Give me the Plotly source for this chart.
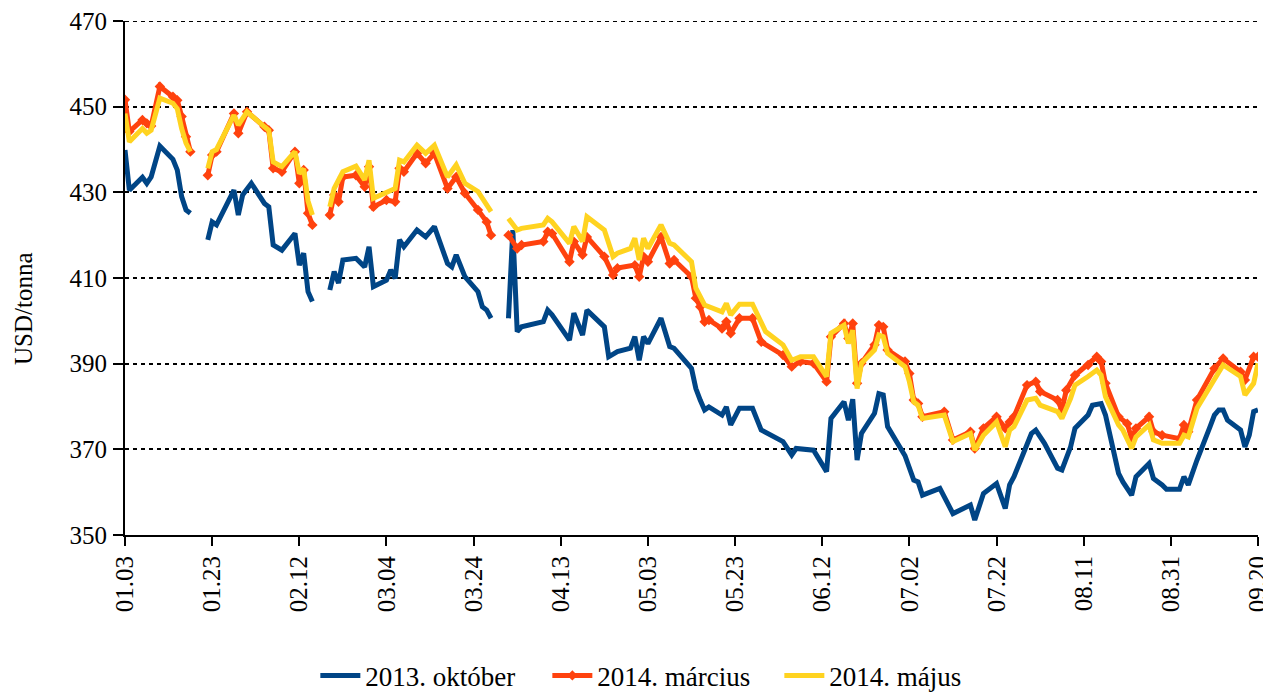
import plotly.graph_objects as go

# ---- data (2013 trading days, USD/tonna) ----
okt_dates = ["01-03","01-04","01-07","01-08","01-09","01-11","01-14","01-15","01-16","01-17","01-18","01-21",
             "01-22","01-23","01-24","01-28","01-29","01-30","02-01","02-04","02-05","02-06","02-08","02-11","02-12","02-13","02-14","02-15","02-18",
             "02-19","02-20","02-21","02-22","02-25","02-27","02-28","03-01","03-04","03-05","03-06","03-07","03-08","03-11","03-13","03-15","03-18","03-19","03-20","03-22","03-25","03-26","03-27","03-28","03-29",
             "04-01","04-02","04-03","04-04","04-09","04-10","04-11","04-15","04-16","04-18","04-19","04-23","04-24","04-26","04-29","04-30",
             "05-01","05-02","05-03","05-06","05-08","05-09","05-13","05-14","05-15","05-16","05-17","05-20","05-21","05-22","05-24","05-27","05-29",
             "06-03","06-05","06-06","06-10","06-12","06-13","06-14","06-17","06-18","06-19","06-20","06-21","06-24","06-25","06-26","06-27",
             "07-01","07-02","07-03","07-04","07-05","07-09","07-12","07-16","07-17","07-19","07-22","07-24","07-25","07-26","07-30","07-31",
             "08-02","08-05","08-06","08-08","08-09","08-12","08-13","08-15","08-16","08-19","08-20","08-22","08-23","08-26","08-27","08-29","08-30",
             "09-02","09-03","09-04","09-06","09-09","09-10","09-11","09-12","09-13","09-16","09-17","09-18","09-19","09-20"]
okt_usd = [439.9,430.5,433.5,432.1,433.6,440.8,437.7,435.2,429.0,425.9,425.1,None,
           418.9,423.1,422.4,430.5,424.7,429.4,432.1,427.4,426.6,417.7,416.5,420.4,413.0,415.8,406.8,404.5,None,
           407.2,411.5,408.8,414.2,414.6,412.6,417.3,408.0,409.5,411.9,409.9,418.9,417.3,421.2,419.6,422.0,413.4,412.6,415.4,410.3,406.8,403.3,402.5,400.6,None,
           400.6,421.2,397.5,398.6,399.8,402.5,401.4,395.5,401.8,396.7,402.5,398.6,391.6,392.8,393.6,396.3,
           390.8,396.3,394.7,400.6,394.0,393.6,388.9,384.2,381.5,379.2,379.9,378.0,379.9,375.7,379.6,379.6,374.5,
           371.8,368.7,370.2,369.8,366.5,364.8,377.2,381.1,376.8,381.7,367.5,373.7,378.4,383.0,382.7,375.3,
           368.5,365.5,362.8,362.4,359.3,360.9,355.0,357.0,353.5,359.7,362.0,356.2,361.7,363.6,373.7,374.5,
           371.4,365.6,365.2,370.6,374.9,378.0,380.3,380.7,378.0,364.4,362.4,359.3,363.6,366.7,363.2,361.7,360.7,
           360.7,363.6,361.7,367.5,375.3,378.0,379.2,379.2,376.8,374.5,370.6,373.3,378.8,379.2]

marc_dates = ["01-03","01-04","01-07","01-08","01-09","01-11","01-14","01-15","01-16","01-17","01-18","01-21",
              "01-22","01-23","01-24","01-28","01-29","01-31","02-04","02-05","02-06","02-08","02-11","02-12","02-13","02-14","02-15","02-18",
              "02-19","02-20","02-21","02-22","02-25","02-27","02-28","03-01","03-04","03-06","03-07","03-08","03-11","03-13","03-15","03-18","03-20","03-22","03-25","03-27","03-28","03-29",
              "04-01","04-03","04-04","04-09","04-10","04-11","04-15","04-16","04-18","04-19","04-23","04-25","04-26","04-30",
              "05-01","05-02","05-03","05-06","05-08","05-09","05-13","05-14","05-15","05-16","05-17","05-20","05-21","05-22","05-24","05-27","05-29",
              "06-03","06-05","06-07","06-10","06-13","06-14","06-17","06-18","06-19","06-20","06-21","06-24","06-25","06-26","06-27",
              "07-01","07-02","07-03","07-04","07-05","07-10","07-12","07-16","07-17","07-19","07-22","07-24","07-25","07-26","07-29","07-31",
              "08-01","08-05","08-06","08-07","08-09","08-12","08-14","08-15","08-16","08-19","08-21","08-22","08-23","08-26","08-27","08-29",
              "09-02","09-03","09-04","09-06","09-10","09-12","09-16","09-17","09-19","09-20"]
marc_usd = [451.6,444.2,446.9,446.1,445.5,454.7,452.3,451.5,447.7,443.0,439.5,None,
            434.0,438.7,439.5,448.4,443.8,448.8,445.3,444.5,435.6,434.8,439.5,432.1,435.2,425.1,422.4,None,
            424.7,429.4,427.8,433.6,434.0,431.3,436.0,426.6,428.2,427.8,435.6,434.8,439.1,436.8,439.1,430.9,433.6,429.8,425.9,423.1,420.0,None,
            420.0,416.9,417.7,418.5,420.8,420.4,413.8,418.5,415.4,419.6,415.0,410.7,412.3,413.0,
            410.3,415.0,413.8,419.6,413.4,414.2,410.3,405.3,403.3,399.8,400.2,398.2,399.8,397.1,400.6,400.6,395.1,
            392.0,389.3,390.5,390.1,385.8,396.3,399.4,395.9,399.4,385.4,390.1,394.4,399.0,398.6,393.2,
            390.5,387.7,381.5,380.7,377.6,378.8,372.2,374.1,370.2,374.9,377.6,374.9,376.4,377.6,385.0,385.8,
            383.5,381.5,379.2,383.8,387.3,389.7,391.6,390.5,385.4,377.6,376.0,372.5,374.9,377.6,374.1,373.3,
            372.5,375.7,374.1,381.5,388.9,391.2,388.1,386.2,391.6,391.6]

maj_dates = ["01-03","01-04","01-07","01-08","01-09","01-11","01-14","01-15","01-16","01-17","01-18","01-21",
             "01-22","01-23","01-24","01-28","01-29","01-31","02-04","02-05","02-06","02-08","02-11","02-12","02-13","02-14","02-15","02-18",
             "02-19","02-20","02-22","02-25","02-27","02-28","03-01","03-04","03-06","03-07","03-08","03-11","03-13","03-15","03-18","03-20","03-22","03-25","03-28","03-29",
             "04-01","04-03","04-04","04-09","04-10","04-11","04-15","04-16","04-18","04-19","04-23","04-25","04-26","04-29","04-30",
             "05-01","05-02","05-03","05-06","05-08","05-09","05-13","05-14","05-15","05-16","05-20","05-21","05-22","05-24","05-27","05-30",
             "06-03","06-05","06-07","06-10","06-13","06-14","06-17","06-18","06-19","06-20","06-21","06-24","06-25","06-26","06-27",
             "07-01","07-02","07-03","07-04","07-05","07-10","07-12","07-16","07-17","07-19","07-22","07-24","07-25","07-26","07-29","07-31",
             "08-01","08-05","08-06","08-08","08-09","08-12","08-14","08-15","08-16","08-19","08-20","08-22","08-23","08-26","08-27","08-29",
             "09-02","09-03","09-04","09-06","09-10","09-12","09-16","09-17","09-19","09-20"]
maj_usd = [448.4,441.8,444.9,443.8,444.5,452.0,450.8,449.5,444.9,441.5,439.5,None,
           435.6,439.5,440.0,448.0,445.7,448.8,445.3,444.5,437.1,436.0,439.5,434.4,435.5,428.0,424.7,None,
           426.6,430.9,434.8,436.1,432.9,437.5,428.6,429.8,430.9,437.5,437.1,441.0,439.1,441.0,433.6,436.4,432.1,430.2,425.5,None,
           423.9,421.2,421.6,422.4,423.9,423.1,418.1,422.0,418.5,424.3,421.2,415.0,415.8,416.9,419.3,
           414.2,419.3,416.9,422.4,418.1,417.7,413.8,407.6,405.5,403.7,402.1,404.1,401.4,403.9,403.9,397.5,
           394.4,390.8,391.6,391.6,387.0,397.1,399.0,394.7,397.8,384.2,390.1,393.2,396.7,396.3,392.4,
           389.3,385.8,381.1,380.3,377.2,378.0,371.8,373.7,369.8,373.3,376.4,370.6,374.5,375.3,381.5,381.9,
           380.3,378.8,377.2,381.9,385.0,387.0,388.5,387.3,382.3,375.7,374.5,370.2,372.9,375.7,372.2,371.4,
           371.4,373.3,372.9,379.6,386.5,389.7,387.0,382.7,385.4,390.1]

tick_dates = ["01-03","01-23","02-12","03-04","03-24","04-13","05-03","05-23","06-12","07-02","07-22","08-11","08-31","09-20"]
tick_labels = ["01.03","01.23","02.12","03.04","03.24","04.13","05.03","05.23","06.12","07.02","07.22","08.11","08.31","09.20"]
series_names = ["2013. október", "2014. március", "2014. május"]
y_min, y_max, y_step = 350, 470, 20

YEAR = "2013-"
FONT = "Liberation Serif"
FS_TICK = 25
FS_LEG = 27
FS_TITLE = 25

fig = go.Figure()
fig.add_trace(go.Scatter(x=[YEAR + d for d in okt_dates], y=okt_usd, name=series_names[0],
                         mode="lines", line=dict(color="#004586", width=5), connectgaps=False))
fig.add_trace(go.Scatter(x=[YEAR + d for d in marc_dates], y=marc_usd, name=series_names[1],
                         mode="lines+markers", line=dict(color="#ff420e", width=5),
                         marker=dict(symbol="diamond", size=8, color="#ff420e"), connectgaps=False))
fig.add_trace(go.Scatter(x=[YEAR + d for d in maj_dates], y=maj_usd, name=series_names[2],
                         mode="lines", line=dict(color="#ffd320", width=5), connectgaps=False))

# page body has an 8px margin, so the figure is sized/positioned to compensate
fig.update_layout(
    width=1263, height=685,
    margin=dict(l=117, r=13, t=13, b=158, autoexpand=False),
    paper_bgcolor="white", plot_bgcolor="white",
    font=dict(family=FONT, size=FS_TICK, color="black"),
    showlegend=True,
    legend=dict(orientation="h", x=0.168, xanchor="left", y=-0.274, yanchor="middle",
                font=dict(family=FONT, size=FS_LEG), itemwidth=40, traceorder="normal",
                entrywidth=177, entrywidthmode="pixels"),
    annotations=[dict(text="USD/tonna", textangle=-90, xref="paper", yref="paper",
                      x=-0.089, y=0.44, xanchor="center", yanchor="middle", showarrow=False,
                      font=dict(family=FONT, size=FS_TITLE))],
    # top dotted gridline (plotly skips the grid line on the plot edge)
    shapes=[dict(type="line", xref="paper", x0=0, x1=1, yref="y", y0=y_max, y1=y_max,
                 line=dict(color="black", width=2, dash="4px,4px"), layer="below")],
)
fig.update_xaxes(
    type="date", range=[YEAR + "01-03", YEAR + "09-20"],
    tickmode="array", tickvals=[YEAR + d for d in tick_dates], ticktext=tick_labels,
    tickangle=-90, ticks="outside", ticklen=9, tickwidth=2, tickcolor="black",
    showline=True, linecolor="black", linewidth=2, showgrid=False, zeroline=False,
    tickfont=dict(family=FONT, size=FS_TICK), ticklabeloverflow="allow",
)
fig.update_yaxes(
    range=[y_min, y_max], tick0=y_min, dtick=y_step, ticks="outside", ticklen=10, tickwidth=2, tickcolor="black",
    showline=True, linecolor="black", linewidth=2, zeroline=False,
    showgrid=True, gridcolor="black", gridwidth=2, griddash="4px,4px",
    tickfont=dict(family=FONT, size=FS_TICK), ticklabelstandoff=1, ticklabeloverflow="allow",
)

fig.write_html("out.html")
